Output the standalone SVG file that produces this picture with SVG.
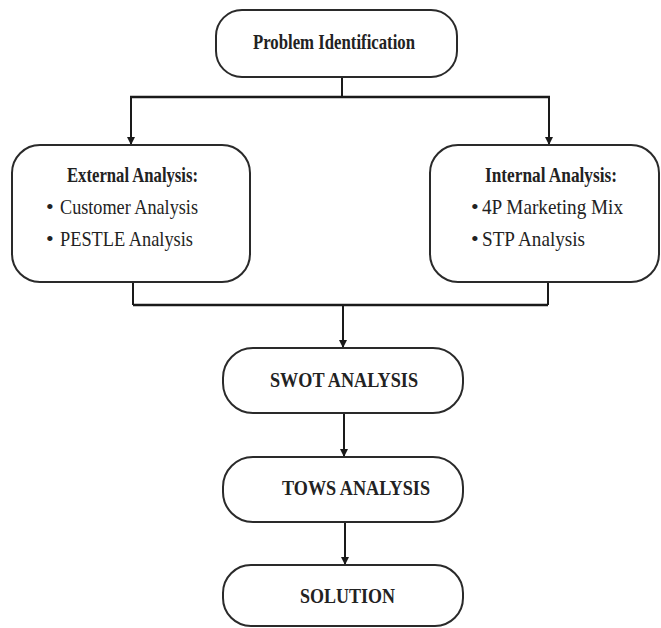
<svg xmlns="http://www.w3.org/2000/svg" width="661" height="628" viewBox="0 0 661 628">
<style>
.box{fill:#fff;stroke:#2a2a2a;stroke-width:2}
.t{font-family:"Liberation Serif","DejaVu Serif","Times New Roman",serif;fill:#222;font-size:22px}
.b{font-weight:bold}
.c{fill:none;stroke:#1a1a1a;stroke-width:2.5}
.a{fill:none;stroke:#1a1a1a;stroke-width:2}
</style>
<defs>
<marker id="ah" markerWidth="8" markerHeight="8" refX="7" refY="4" orient="auto" markerUnits="userSpaceOnUse">
<path d="M0,0 L8,4 L0,8 Z" fill="#1a1a1a"/>
</marker>
</defs>
<g id="connectors">
<path class="a" d="M342,77 V97"/>
<path class="c" d="M130,97 H550"/>
<path class="a" d="M131,97 V144" marker-end="url(#ah)"/>
<path class="a" d="M549,97 V144" marker-end="url(#ah)"/>
<path class="a" d="M133,282 V305"/>
<path class="a" d="M548,282 V305"/>
<path class="c" d="M133,305 H548"/>
<path class="a" d="M343,305 V347" marker-end="url(#ah)"/>
<path class="a" d="M344,413 V456" marker-end="url(#ah)"/>
<path class="a" d="M345,522 V564" marker-end="url(#ah)"/>
</g>
<g id="problem">
<rect class="box" x="216" y="10" width="241" height="67" rx="26"/>
<text class="t b" x="253" y="49" textLength="162" lengthAdjust="spacingAndGlyphs">Problem Identification</text>
</g>
<g id="external">
<rect class="box" x="12" y="145" width="238" height="137" rx="28"/>
<text class="t b" x="67" y="182" textLength="131" lengthAdjust="spacingAndGlyphs">External Analysis:</text>
<text class="t" x="46" y="214" font-size="18">•</text>
<text class="t" x="60" y="214" textLength="138" lengthAdjust="spacingAndGlyphs">Customer Analysis</text>
<text class="t" x="46" y="246" font-size="18">•</text>
<text class="t" x="60" y="246" textLength="133" lengthAdjust="spacingAndGlyphs">PESTLE Analysis</text>
</g>
<g id="internal">
<rect class="box" x="430" y="145" width="229" height="137" rx="28"/>
<text class="t b" x="485" y="182" textLength="132" lengthAdjust="spacingAndGlyphs">Internal Analysis:</text>
<text class="t" x="471" y="214" font-size="18">•</text>
<text class="t" x="482" y="214" textLength="141" lengthAdjust="spacingAndGlyphs">4P Marketing Mix</text>
<text class="t" x="471" y="246" font-size="18">•</text>
<text class="t" x="482" y="246" textLength="103" lengthAdjust="spacingAndGlyphs">STP Analysis</text>
</g>
<g id="swot">
<rect class="box" x="223" y="348" width="240" height="65" rx="30"/>
<text class="t b" x="270" y="387" textLength="148" lengthAdjust="spacingAndGlyphs">SWOT ANALYSIS</text>
</g>
<g id="tows">
<rect class="box" x="223" y="457" width="240" height="65" rx="30"/>
<text class="t b" x="282" y="495" textLength="148" lengthAdjust="spacingAndGlyphs">TOWS ANALYSIS</text>
</g>
<g id="solution">
<rect class="box" x="223" y="565" width="240" height="61" rx="28"/>
<text class="t b" x="300" y="603" textLength="95" lengthAdjust="spacingAndGlyphs">SOLUTION</text>
</g>
</svg>
